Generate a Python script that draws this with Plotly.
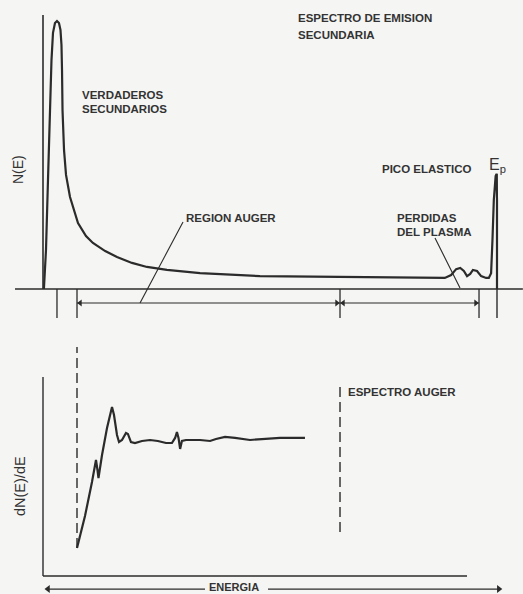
import plotly.graph_objects as go

# ---------------- data (arbitrary units, Ep = 100) ----------------
energy_top = [0.2, 0.66, 1.1, 1.54, 1.87, 2.2, 2.64, 3.08, 3.52, 3.85, 4.07, 4.19, 4.3, 4.63,
              5.07, 5.95, 7.71, 9.47, 11.0, 13.7, 16.3, 19.6, 22.9, 27.3, 34.6, 47.8, 67.6,
              88.5, 89.9, 91.0, 91.9, 92.7, 93.4, 94.1, 94.7, 95.6, 96.5, 97.6, 98.2, 98.7,
              99.0, 99.3, 99.7, 99.9, 100.0, 100.0]
n_of_e = [0, 14.5, 40.5, 66.5, 85.1, 95.2, 98.9, 99.6, 98.9, 96.3, 90.7, 81.4, 66.5, 51.7,
          42.4, 34.2, 24.5, 19.7, 17.1, 14.1, 11.9, 9.7, 8.2, 7.1, 5.9, 4.8, 4.5,
          4.1, 5.2, 7.4, 7.8, 6.7, 4.8, 5.6, 7.1, 6.7, 4.8, 4.1, 4.1, 5.9,
          18.2, 33.1, 42.0, 42.8, 33.0, 0]

energy_bot = [7.49, 9.25, 10.79, 11.67, 12.0, 12.22, 13.0, 14.1, 15.2, 15.64, 16.3, 16.74,
              17.4, 18.28, 18.7, 19.38, 20.26, 21.8, 23.57, 25.3, 27.1, 28.4, 29.1, 29.5,
              29.85, 30.2, 30.6, 31.5, 34.6, 36.8, 38.1, 40.1, 42.3, 45.6, 48.2, 52.2, 57.7]
dn_de = [-100, -70.4, -38.9, -18.5, -27.8, -35.2, -13.9, 11.1, 30.6, 23.1, 4.6, -1.9,
         0, 6.5, 5.6, -1.9, -2.8, -0.9, 0, -0.9, -2.8, -2.8, 1.9, 7.4,
         1.9, -8.3, -0.9, 0, 0, -0.9, 0.9, 2.8, 1.9, 0, 0.9, 1.9, 1.9]

# region boundaries (energy units)
E_START, E_AUGER_LO, E_AUGER_HI, E_PLASMA_HI, E_P = 3.08, 7.49, 65.42, 96.04, 100.0

# ---------------- styling ----------------
BG = "#f5f5f3"
INK = "#2b2b2b"
TXT = "#333333"
FONT = "Liberation Sans"

W, H = 523, 594


def px(x):
    return x / W


def py(y):
    return 1 - y / H


fig = go.Figure()
fig.add_trace(go.Scatter(x=energy_top, y=n_of_e, mode="lines", xaxis="x", yaxis="y",
                         line=dict(color=INK, width=2.2), hoverinfo="skip"))
fig.add_trace(go.Scatter(x=energy_bot, y=dn_de, mode="lines", xaxis="x2", yaxis="y2",
                         line=dict(color=INK, width=2.2), hoverinfo="skip"))

shapes = []


def seg(x0, y0, x1, y1, xr="x", yr="y", w=1.5, dash=None):
    d = dict(type="line", x0=x0, y0=y0, x1=x1, y1=y1, xref=xr, yref=yr,
             line=dict(color=INK, width=w))
    if dash:
        d["line"]["dash"] = dash
    shapes.append(d)


# top panel axes
seg(0, 0, 0, 101.9, w=1.6)
seg(-6.17, 0, 105.7, 0, w=1.4)
# ticks below baseline
for e in (E_START, E_AUGER_LO, E_AUGER_HI, E_PLASMA_HI):
    seg(e, 0, e, -10.8, w=1.3)
seg(E_P, 42.8, E_P, -10.8, w=1.4)
# leaders
seg(21.37, -5.2, 30.84, 24.9, w=1.1)
seg(86.34, 18.96, 91.85, 0.37, w=1.1)
# bracket (dimension) line
seg(E_AUGER_LO, -5.2, E_PLASMA_HI, -5.2, w=1.2)

# bottom panel axes
seg(0, -125.9, 0, 58.3, "x2", "y2", w=1.4)
seg(0, -125.9, 93.4, -125.9, "x2", "y2", w=1.4)
# dashed region limits
seg(E_AUGER_LO, -100, E_AUGER_LO, 86.1, "x2", "y2", w=1.4, dash="10px,5px")
seg(E_AUGER_HI, -85.2, E_AUGER_HI, 53.7, "x2", "y2", w=1.4, dash="10px,5px")
# energy arrow line (with gap for label)
seg(1.2, -138.0, 35.68, -138.0, "x2", "y2", w=1.2)
seg(49.56, -138.0, 100.3, -138.0, "x2", "y2", w=1.2)

# arrowheads (small filled triangles)
heads_left = dict(x=[E_AUGER_LO + 0.7, E_AUGER_HI + 0.7], y=[-5.2, -5.2])
heads_right = dict(x=[E_AUGER_HI - 0.7, E_PLASMA_HI - 0.7], y=[-5.2, -5.2])
fig.add_trace(go.Scatter(x=heads_left["x"], y=heads_left["y"], mode="markers", xaxis="x", yaxis="y",
                         marker=dict(symbol="triangle-left", size=6, color=INK), hoverinfo="skip"))
fig.add_trace(go.Scatter(x=heads_right["x"], y=heads_right["y"], mode="markers", xaxis="x", yaxis="y",
                         marker=dict(symbol="triangle-right", size=6, color=INK), hoverinfo="skip"))
fig.add_trace(go.Scatter(x=[1.1], y=[-138.0], mode="markers", xaxis="x2", yaxis="y2",
                         marker=dict(symbol="triangle-left", size=7, color=INK), hoverinfo="skip"))
fig.add_trace(go.Scatter(x=[100.4], y=[-138.0], mode="markers", xaxis="x2", yaxis="y2",
                         marker=dict(symbol="triangle-right", size=7, color=INK), hoverinfo="skip"))

annotations = []


def label(text, x, y, size=11.5, anchor="left", bold=True, angle=0):
    annotations.append(dict(text=f"<b>{text}</b>" if bold else text,
                            x=px(x), y=py(y), xref="paper", yref="paper",
                            xanchor=anchor, yanchor="middle", showarrow=False,
                            textangle=angle,
                            font=dict(family=FONT, size=size, color=TXT)))


label("ESPECTRO DE EMISION", 296, 18)
label("SECUNDARIA", 296, 35)
label("VERDADEROS", 80, 95)
label("SECUNDARIOS", 80, 109)
label("REGION AUGER", 184, 218)
label("PICO ELASTICO", 380, 169)
label("PERDIDAS", 395, 218)
label("DEL PLASMA", 395, 232)
label("ESPECTRO AUGER", 346, 392)
label("ENERGIA", 234, 587, size=11)
annotations[-1]["xanchor"] = "center"
label("E<sub>p</sub>", 487, 166, size=16, bold=False)
label("N(E)", 18, 170, size=14, anchor="center", bold=False, angle=-90)
label("dN(E)/dE", 20, 486, size=14.5, anchor="center", bold=False, angle=-90)

ax_common = dict(visible=False, showgrid=False, zeroline=False, fixedrange=True)
fig.update_layout(
    width=W, height=H, autosize=False,
    margin=dict(l=0, r=0, t=0, b=0),
    paper_bgcolor=BG, plot_bgcolor=BG,
    showlegend=False,
    xaxis=dict(domain=[0, 1], range=[-9.471, 105.727], anchor="y", **ax_common),
    yaxis=dict(domain=[1 - 330 / H, 1], range=[-15.24, 107.43], anchor="x", **ax_common),
    xaxis2=dict(domain=[0, 1], range=[-9.471, 105.727], anchor="y2", **ax_common),
    yaxis2=dict(domain=[0, 1 - 330 / H], range=[-142.59, 101.85], anchor="x2", **ax_common),
    shapes=shapes,
    annotations=annotations,
)

fig.write_html("out.html", config={"displayModeBar": False})
